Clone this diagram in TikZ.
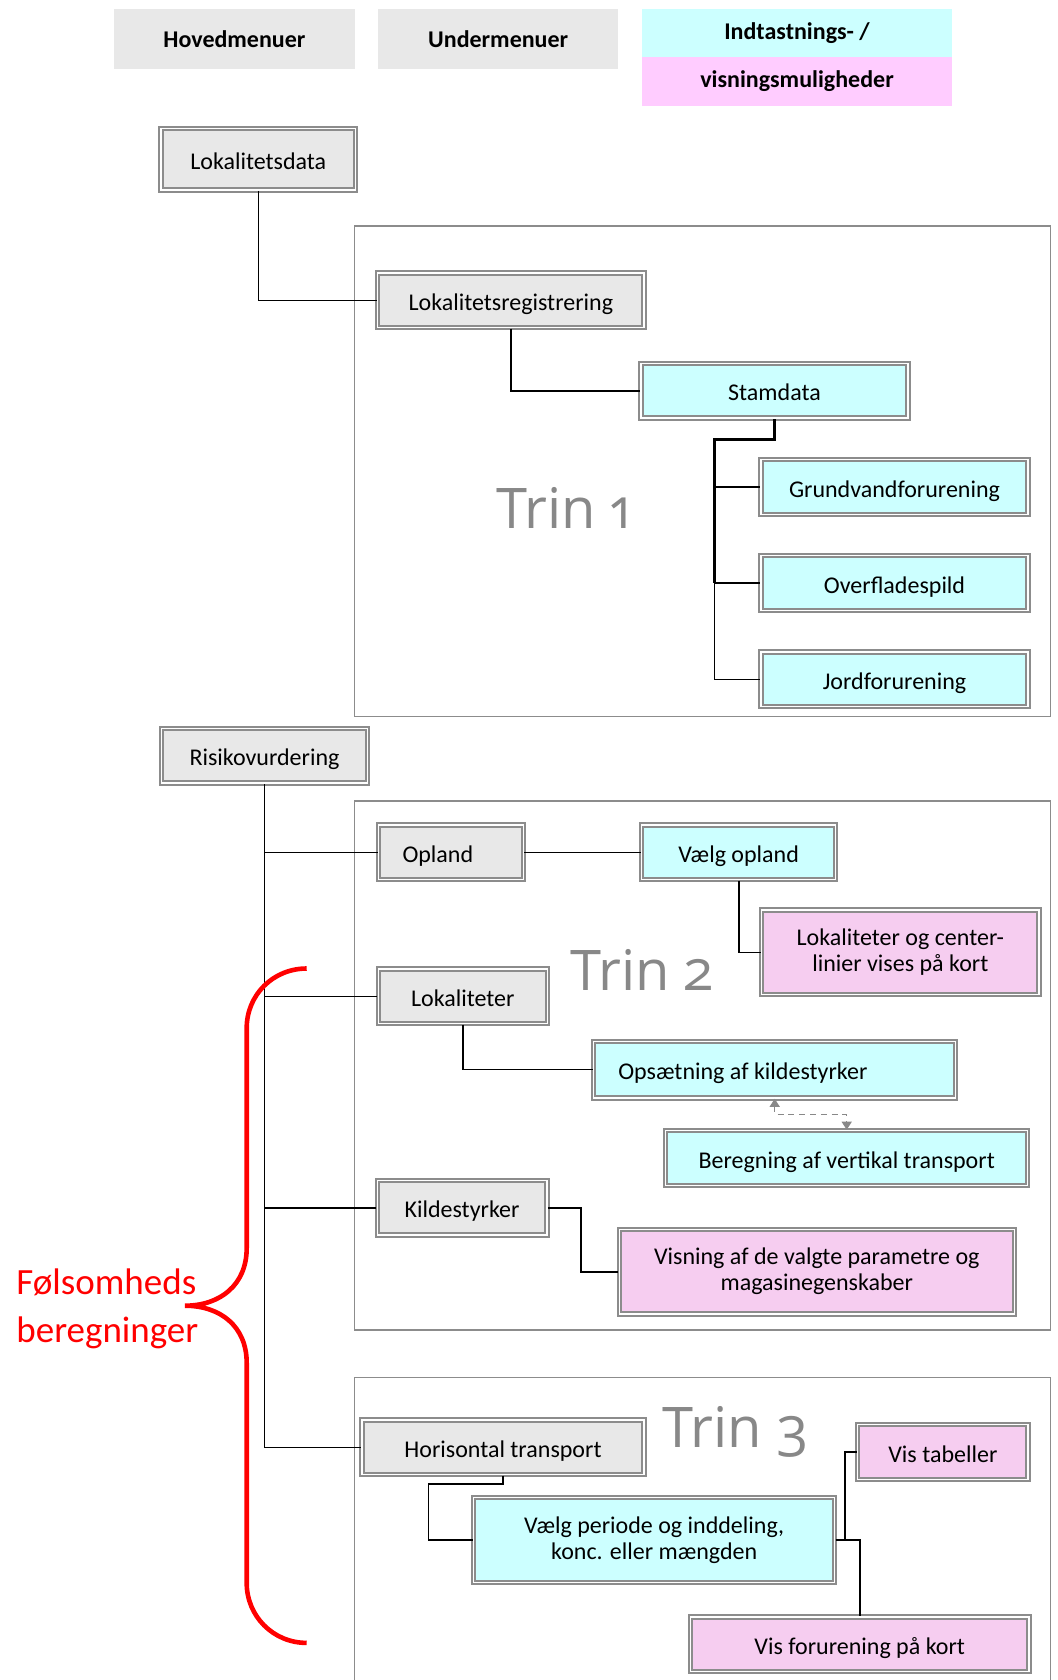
\documentclass[tikz,border=0pt]{standalone}
\usepackage{fontspec}
\setmainfont{Carlito}
\newfontfamily\trinfont[Numbers=OldStyle]{Open Sans}
\usepackage{xcolor}
\usetikzlibrary{arrows.meta,calc}
\definecolor{boxgray}{HTML}{E8E8E8}
\definecolor{boxcyan}{HTML}{CCFFFF}
\definecolor{boxpink}{HTML}{F6CDF0}
\definecolor{legpink}{HTML}{FFCCFF}
\definecolor{rimgray}{HTML}{8C8C8C}
\definecolor{tringray}{HTML}{888888}

\begin{document}
\begin{tikzpicture}[x=0.5pt, y=-0.5pt, >={Triangle[length=4pt,width=5pt]},
    menu/.style={draw=rimgray, line width=1pt, double=white, double distance=0.7pt,
        inner sep=0pt, align=center, font=\fontsize{12}{13}\selectfont, minimum height=27.3pt,
        text height=10.5pt, text depth=0.5pt},
    twoline/.style={text height=, text depth=},
    hoved/.style={menu, fill=boxgray},
    inddata/.style={menu, fill=boxcyan},
    visning/.style={menu, fill=boxpink},
    legend/.style={inner sep=0pt, font=\fontsize{12}{13}\selectfont\bfseries},
    trinbox/.style={draw=rimgray, line width=0.75pt},
    trinlabel/.style={anchor=base, text=tringray, font=\fontsize{28}{32}\selectfont\trinfont},
    link/.style={line width=0.8pt},
    trunk/.style={line width=1.5pt},
    swap/.style={<->, draw=tringray, line width=0.75pt, dash pattern=on 3pt off 2.4pt},
    brace/.style={draw=red, line width=2.3pt}]
    \useasboundingbox (0,0) rectangle (1057,1680);

    % legend
    \node[legend, fill=boxgray, minimum width=120.7pt, minimum height=30.2pt] (leg1) at (234.4,39.2) {Hovedmenuer};
    \node[legend, fill=boxgray, minimum width=120.2pt, minimum height=30.2pt] (leg2) at (498.2,39.2) {Undermenuer};
    \node[legend, fill=boxcyan, minimum width=155pt, minimum height=23.9pt] (leg3a) at (797,32.9) {Indtastnings- /};
    \node[legend, fill=legpink, minimum width=155pt, minimum height=24.7pt] (leg3b) at (797,81.3) {visningsmuligheder};

    % trin frames
    \draw[trinbox] (354.3,226) rectangle (1050.7,716.7);
    \draw[trinbox] (354.3,801) rectangle (1050.7,1330);
    \draw[trinbox] (354.3,1690) |- (1050.7,1377.3) -- (1050.7,1690);
    \node[trinlabel] (trin1) at (563.5,528.3) {Trin 1};
    \node[trinlabel] (trin2) at (642,990) {Trin 2};
    \node[trinlabel] (trin3) at (735.5,1447) {Trin 3};

    % trin 1
    \node[hoved, minimum width=97.3pt, minimum height=30.8pt] (lokd) at (258.3,159.2) {Lokalitetsdata};
    \node[hoved, minimum width=133.2pt] (lokreg) at (510.8,300.3) {Lokalitetsregistrering};
    \node[inddata, minimum width=133.5pt] (stam) at (774.5,390.8) {Stamdata};
    \node[inddata, minimum width=133.5pt] (grund) at (894.5,487) {Grundvandforurening};
    \node[inddata, minimum width=133.5pt] (over) at (894.5,583) {Overfladespild};
    \node[inddata, minimum width=133.5pt] (jord) at (894.5,679.3) {Jordforurening};
    \coordinate (sj) at (714.3,439.3);

    % trin 2
    \node[hoved, minimum width=102.8pt] (risk) at (264.5,755.7) {Risikovurdering};
    \node[hoved, text width=48.4pt, inner xsep=12pt, align=flush left] (opl) at (450.9,852.4) {Opland};
    \node[inddata, minimum width=97pt] (vopl) at (738.7,852.4) {Vælg opland};
    \node[visning, twoline, minimum width=138.7pt, minimum height=42.3pt] (lcl) at (900.3,952.3) {Lokaliteter og center-\\linier vises på kort};
    \node[hoved, minimum width=84.5pt] (lok) at (462.8,996.3) {Lokaliteter};
    \node[inddata, text width=156.4pt, inner xsep=12.3pt, align=flush left, minimum height=28.3pt] (ops) at (774.7,1069.5) {Opsætning af kildestyrker};
    \node[inddata, minimum width=181pt] (ber) at (846.7,1158) {Beregning af vertikal transport};
    \node[hoved, minimum width=84.8pt] (kil) at (462,1207.8) {Kildestyrker};
    \node[visning, twoline, minimum width=197.5pt, minimum height=42.3pt] (vis) at (816.8,1271.7) {Visning af de valgte parametre og\\magasinegenskaber};

    % trin 3
    \node[hoved, minimum width=141pt] (hor) at (503,1447.3) {Horisontal transport};
    \node[inddata, twoline, minimum width=180.5pt, minimum height=42.3pt] (vp) at (654.2,1540) {Vælg periode og inddeling,\\konc. eller mængden};
    \node[visning, minimum width=85.2pt] (vt) at (942.9,1452) {Vis tabeller};
    \node[visning, minimum width=169.3pt] (vf) at (859.7,1644.2) {Vis forurening på kort};

    % connectors
    \draw[link] (lokd.south) |- (lokreg.west);
    \draw[link] (lokreg.south) |- (stam.west);
    \draw[trunk] (stam.south) |- (sj) -- (sj |- over.west);
    \draw[link] (sj) |- (grund.west);
    \draw[link] (sj) |- (over.west);
    \draw[link] (sj) |- (jord.west);
    \draw[link] (risk.south) |- (opl.west);
    \draw[link] (risk.south) |- (lok.west);
    \draw[link] (risk.south) |- (kil.west);
    \draw[link] (risk.south) |- (hor.west);
    \draw[link] (opl.east) -- (vopl.west);
    \draw[link] (vopl.south) |- (lcl.west);
    \draw[link] (lok.south) |- (ops.west);
    \draw[swap] (ops.south) |- ($(ops.south)!0.5!(ber.north)$) -| (ber.north);
    \draw[link] (kil.east) -- ++(33.4,0) |- (vis.west);
    \draw[link] (hor.south) -- ++(0,8.4) -| ([xshift=-22.2pt]vp.west) -- (vp.west);
    \draw[link] (vp.east) -- ++(9.4,0) |- (vt.west);
    \draw[link] (vp.east) -| (vf.north);

    % sensitivity brace
    \draw[brace] (306.7,968.5) .. controls (273,968.5) and (246.7,995) .. (246.7,1028)
        -- (246.7,1248) .. controls (246.7,1285) and (220,1305.7) .. (185,1305.7)
        .. controls (220,1305.7) and (246.7,1326) .. (246.7,1363)
        -- (246.7,1583) .. controls (246.7,1616) and (273,1642.9) .. (306.7,1642.9);
    \node[anchor=base west, align=left, inner sep=0pt, text=red, font=\fontsize{18.5}{24}\selectfont] (fols) at (16,1342) {Følsomheds\\beregninger};
\end{tikzpicture}
\end{document}
